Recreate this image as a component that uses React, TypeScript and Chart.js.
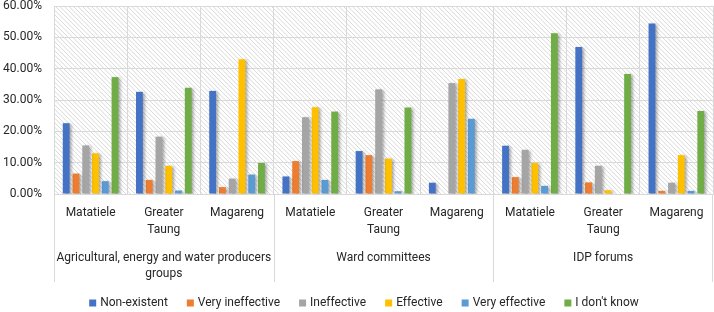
import React, { useEffect, useRef } from "react";
import { Chart, registerables } from "chart.js";

Chart.register(...registerables);

const categories: (string | string[])[] = [
  "Matatiele", ["Greater", "Taung"], "Magareng",
  "Matatiele", ["Greater", "Taung"], "Magareng",
  "Matatiele", ["Greater", "Taung"], "Magareng",
];
const groups: string[][] = [
  ["Agricultural, energy and water producers", "groups"],
  ["Ward committees"],
  ["IDP forums"],
];
const seriesNames = ["Non-existent", "Very ineffective", "Ineffective", "Effective", "Very effective", "I don't know"];
const nonExistent = [22.6, 32.6, 32.9, 5.6, 13.7, 3.6, 15.4, 46.9, 54.4];
const veryIneffective = [6.5, 4.5, 2.2, 10.5, 12.4, 0, 5.4, 3.7, 1.0];
const ineffective = [15.5, 18.3, 4.9, 24.5, 33.4, 35.4, 14.1, 9.0, 3.6];
const effective = [13.0, 9.0, 43.0, 27.7, 11.3, 36.7, 9.9, 1.2, 12.4];
const veryEffective = [4.1, 1.1, 6.2, 4.5, 0.9, 24.0, 2.6, 0, 1.0];
const dontKnow = [37.3, 33.9, 9.9, 26.3, 27.6, 0, 51.3, 38.3, 26.5];
const colors = ["#4472C4", "#ED7D31", "#A5A5A5", "#FFC000", "#5B9BD5", "#70AD47"];

const FONT = "Roboto, 'Liberation Sans', sans-serif";
const FS = 12;
const TEXT = "#262626";
const GRID = "#d9d9d9";

const hatchPlugin = {
  id: "hatch",
  beforeDraw(chart: any) {
    const { ctx, chartArea: a } = chart;
    ctx.save();
    ctx.beginPath();
    ctx.rect(a.left, a.top, a.right - a.left, a.bottom - a.top);
    ctx.clip();
    ctx.strokeStyle = "rgba(0,0,0,0.17)";
    ctx.lineWidth = 0.9;
    const h = a.bottom - a.top;
    ctx.beginPath();
    for (let x = a.left - h; x < a.right; x += 4.5) {
      ctx.moveTo(x, a.top);
      ctx.lineTo(x + h, a.bottom);
    }
    ctx.stroke();
    ctx.restore();
  },
};

const shadowPlugin = {
  id: "barShadow",
  beforeDatasetsDraw(chart: any) {
    const ctx = chart.ctx;
    ctx.save();
    ctx.shadowColor = "rgba(0,0,0,0.32)";
    ctx.shadowBlur = 3;
    ctx.shadowOffsetX = 2;
    ctx.shadowOffsetY = 1;
  },
  afterDatasetsDraw(chart: any) {
    chart.ctx.restore();
  },
};

const groupPlugin = {
  id: "groups",
  afterDraw(chart: any) {
    const { ctx, chartArea: a } = chart;
    const xs = chart.scales.x;
    const n = categories.length;
    const cw = (a.right - a.left) / n;
    ctx.save();
    ctx.strokeStyle = GRID;
    ctx.lineWidth = 1;
    ctx.beginPath();
    for (let g = 0; g <= groups.length; g++) {
      const x = Math.round(a.left + g * 3 * cw) + 0.5;
      ctx.moveTo(Math.min(x, a.right - 0.5), a.bottom);
      ctx.lineTo(Math.min(x, a.right - 0.5), a.bottom + 88);
    }
    ctx.stroke();
    ctx.fillStyle = TEXT;
    ctx.font = `${FS}px ${FONT}`;
    ctx.textAlign = "center";
    ctx.textBaseline = "middle";
    groups.forEach((lines, g) => {
      const cx = xs.getPixelForValue(g * 3 + 1);
      lines.forEach((t, i) => ctx.fillText(t, cx, a.bottom + 64 + i * 15.5));
    });
    const box = 7, gapBox = 4, gapItem = 19;
    const widths = seriesNames.map((s) => ctx.measureText(s).width);
    const total = widths.reduce((s, w) => s + box + gapBox + w, 0) + gapItem * (seriesNames.length - 1);
    let x = (chart.width - total) / 2 + 7;
    const y = a.bottom + 109;
    ctx.textAlign = "left";
    seriesNames.forEach((s, i) => {
      ctx.fillStyle = colors[i];
      ctx.fillRect(x, y - box / 2, box, box);
      ctx.fillStyle = TEXT;
      ctx.fillText(s, x + box + gapBox, y);
      x += box + gapBox + widths[i] + gapItem;
    });
    ctx.restore();
  },
};

export default function App() {
  const ref = useRef<HTMLCanvasElement | null>(null);
  useEffect(() => {
    document.body.style.margin = "0";
    const values = [nonExistent, veryIneffective, ineffective, effective, veryEffective, dontKnow];
    const chart = new Chart(ref.current!, {
      type: "bar",
      data: {
        labels: categories,
        datasets: seriesNames.map((name, i) => ({
          label: name,
          data: values[i],
          backgroundColor: colors[i],
          categoryPercentage: 0.8,
          barPercentage: 0.7,
        })),
      },
      options: {
        responsive: false,
        animation: false,
        layout: { padding: { left: 0, right: 1, top: 0, bottom: 0 } },
        plugins: { legend: { display: false }, tooltip: { enabled: false } },
        scales: {
          x: {
            offset: true,
            grid: { offset: true, color: GRID, drawTicks: false },
            border: { color: GRID },
            ticks: {
              color: TEXT,
              font: { family: FONT, size: FS, lineHeight: 1.375 },
              padding: 11,
              maxRotation: 0,
              autoSkip: false,
            },
            afterFit: (s: any) => {
              s.height = 118;
              s.paddingLeft = 0;
              s.paddingRight = 0;
            },
          },
          y: {
            min: 0,
            max: 60,
            grid: { color: GRID, drawTicks: false },
            border: { color: GRID },
            ticks: {
              stepSize: 10,
              color: TEXT,
              padding: 12,
              font: { family: FONT, size: FS },
              callback: (v: any) => Number(v).toFixed(2) + "%",
            },
            afterFit: (s: any) => {
              s.width = 54;
              s.paddingTop = 6;
              s.paddingBottom = 0;
            },
          },
        },
      },
      plugins: [hatchPlugin, shadowPlugin, groupPlugin],
    });
    return () => chart.destroy();
  }, []);
  return (
    <div style={{ width: 714, height: 312 }}>
      <canvas ref={ref} width={714} height={312} />
    </div>
  );
}
